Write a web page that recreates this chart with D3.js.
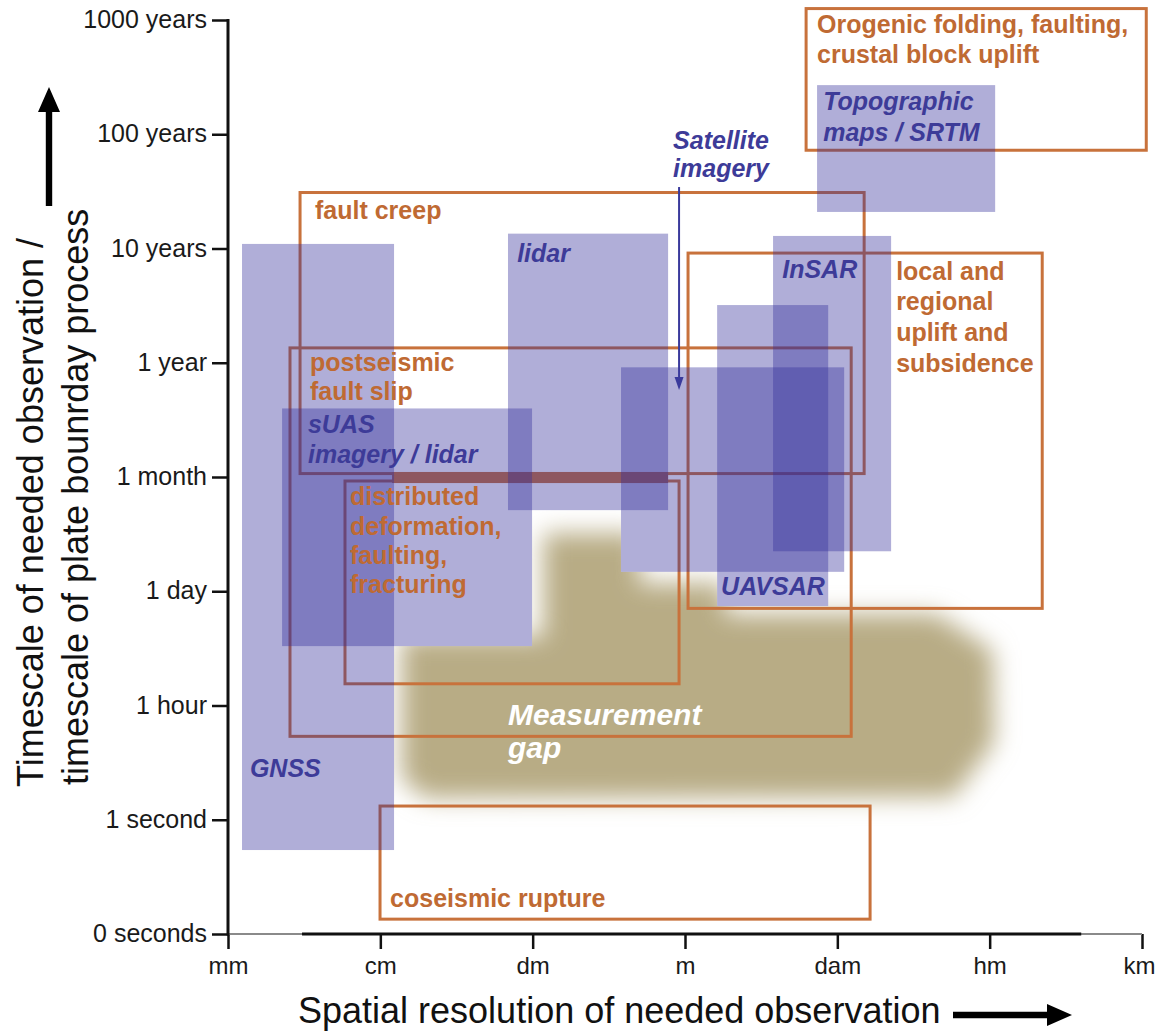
<!DOCTYPE html>
<html>
<head>
<meta charset="utf-8">
<script src="https://cdn.jsdelivr.net/npm/d3@7"></script>
<style>
  html, body { margin: 0; padding: 0; background: #fff; }
  svg { display: block; font-family: "Liberation Sans", Arial, Helvetica, sans-serif; }
</style>
</head>
<body>
<svg id="chart" width="1157" height="1031"></svg>
<script>
// ---- Axis categories -------------------------------------------------------
// Spatial resolution, one step per decade of length
const spatialTicks = ["mm", "cm", "dm", "m", "dam", "hm", "km"];
// Timescale steps, bottom to top
const timeTicks = ["0 seconds", "1 second", "1 hour", "1 day", "1 month",
                   "1 year", "10 years", "100 years", "1000 years"];

// ---- Observation techniques (blue) -----------------------------------------
// x0..x1 in spatial steps (0 = mm), y0..y1 in timescale steps (0 = 0 seconds)
const techniques = [
  { name: "GNSS",        x0: 0.092, x1: 1.090, y0: 0.735, y1: 6.04 },
  { name: "sUAS",        x0: 0.355, x1: 1.996, y0: 2.52,  y1: 4.60 },
  { name: "lidar",       x0: 1.838, x1: 2.889, y0: 3.71,  y1: 6.13 },
  { name: "Satellite",   x0: 2.580, x1: 4.045, y0: 3.17,  y1: 4.96 },
  { name: "UAVSAR",      x0: 3.211, x1: 3.940, y0: 2.87,  y1: 5.505 },
  { name: "InSAR",       x0: 3.578, x1: 4.353, y0: 3.35,  y1: 6.11 },
  { name: "Topographic", x0: 3.867, x1: 5.036, y0: 6.32,  y1: 7.43 }
];

// ---- Plate boundary processes (orange outlines) ----------------------------
const processes = [
  { name: "Orogenic",     x0: 3.795, x1: 6.028, y0: 6.86, y1: 8.10 },
  { name: "fault creep",  x0: 0.473, x1: 4.176, y0: 4.03, y1: 6.49 },
  { name: "local",        x0: 3.020, x1: 5.345, y0: 2.85, y1: 5.96 },
  { name: "postseismic",  x0: 0.407, x1: 4.091, y0: 1.73, y1: 5.13 },
  { name: "distributed",  x0: 0.768, x1: 2.961, y0: 2.19, y1: 3.965 },
  { name: "coseismic",    x0: 0.998, x1: 4.215, y0: 0.13, y1: 1.12 }
];
// heavy band where the fault-creep floor meets distributed deformation
const creepBand = [{ x0: 1.077, x1: 2.889, y0: 3.947, y1: 4.044 }];

// ---- Measurement gap outline (spatial step, timescale step) ----------------
const gapOutline = [
  [1.140, 2.600], [2.070, 2.600], [2.070, 3.510], [2.700, 3.510],
  [2.700, 3.070], [3.263, 3.070], [3.263, 2.800], [4.650, 2.800],
  [5.020, 2.480], [5.030, 1.680], [4.760, 1.200], [1.294, 1.190],
  [1.140, 1.360]
];

// ---- Text labels (first-line anchors in data units) ------------------------
const processLabels = [
  { text: "Orogenic folding, faulting,", x: 3.867, y: 7.886 },
  { text: "crustal block uplift",        x: 3.867, y: 7.624 },
  { text: "fault creep",                 x: 0.571, y: 6.258 },
  { text: "local and",                   x: 4.386, y: 5.724 },
  { text: "regional",                    x: 4.386, y: 5.462 },
  { text: "uplift and",                  x: 4.386, y: 5.190 },
  { text: "subsidence",                  x: 4.386, y: 4.919 },
  { text: "postseismic",                 x: 0.538, y: 4.928 },
  { text: "fault slip",                  x: 0.538, y: 4.674 },
  { text: "distributed",                 x: 0.801, y: 3.755 },
  { text: "deformation,",                x: 0.801, y: 3.492 },
  { text: "faulting,",                   x: 0.801, y: 3.239 },
  { text: "fracturing",                  x: 0.801, y: 2.985 },
  { text: "coseismic rupture",           x: 1.064, y: 0.236 }
];
const techLabels = [
  { text: "Topographic",     x: 3.907, y: 7.212 },
  { text: "maps / SRTM",     x: 3.907, y: 6.941 },
  { text: "Satellite",       x: 2.922, y: 6.871 },
  { text: "imagery",         x: 2.922, y: 6.626 },
  { text: "lidar",           x: 1.898, y: 5.882 },
  { text: "InSAR",           x: 3.638, y: 5.742 },
  { text: "sUAS",            x: 0.525, y: 4.385 },
  { text: "imagery / lidar", x: 0.525, y: 4.123 },
  { text: "UAVSAR",          x: 3.237, y: 2.967 },
  { text: "GNSS",            x: 0.144, y: 1.374 }
];
const gapLabels = [
  { text: "Measurement", x: 1.838, y: 1.829 },
  { text: "gap",         x: 1.838, y: 1.540 }
];
// pointer from the satellite imagery label down into its box
const satellitePointer = { x: 2.961, yFrom: 6.538, yTo: 4.761 };

// ---- Styling ---------------------------------------------------------------
const ORANGE_LINE = "#c8723c";
const ORANGE_TEXT = "#bf6a33";
const BLUE_FILL = "rgb(52,47,155)";
const BLUE_OPACITY = 0.39;
const BLUE_TEXT = "#3d3b98";
const GAP_FILL = "#b8ac85";

const svg = d3.select("#chart");
const x = d3.scaleLinear().domain([0, 6]).range([228, 1142]);
const y = d3.scaleLinear().domain([0, 8]).range([934, 20]);

const defs = svg.append("defs");
defs.append("filter")
    .attr("id", "gapBlur")
    .attr("x", "-25%").attr("y", "-25%")
    .attr("width", "150%").attr("height", "150%")
  .append("feGaussianBlur")
    .attr("stdDeviation", 12);

const rectAttrs = sel => sel
  .attr("x", d => x(d.x0))
  .attr("y", d => y(d.y1))
  .attr("width", d => x(d.x1) - x(d.x0))
  .attr("height", d => y(d.y0) - y(d.y1));

// measurement gap: soft khaki area
svg.append("path")
  .datum(gapOutline)
  .attr("d", d3.line().x(d => x(d[0])).y(d => y(d[1])).curve(d3.curveLinearClosed))
  .attr("fill", GAP_FILL)
  .attr("filter", "url(#gapBlur)");

// technique footprints knock the gap out underneath
svg.append("g").selectAll("rect")
  .data(techniques).join("rect")
  .call(rectAttrs)
  .attr("fill", "#fff");

// process outlines
svg.append("g").selectAll("rect")
  .data(creepBand).join("rect")
  .call(rectAttrs)
  .attr("fill", ORANGE_LINE);

svg.append("g").selectAll("rect")
  .data(processes).join("rect")
  .call(rectAttrs)
  .attr("fill", "none")
  .attr("stroke", ORANGE_LINE)
  .attr("stroke-width", 3);

// technique boxes (translucent, so overlaps darken)
svg.append("g").selectAll("rect")
  .data(techniques).join("rect")
  .call(rectAttrs)
  .attr("fill", BLUE_FILL)
  .attr("fill-opacity", BLUE_OPACITY);

// ---- Axes ------------------------------------------------------------------
const xAxis = svg.append("g")
  .attr("transform", `translate(0,${y(0)})`)
  .call(d3.axisBottom(x)
    .tickValues(d3.range(spatialTicks.length))
    .tickFormat(i => spatialTicks[i])
    .tickSize(15)
    .tickPadding(6));
xAxis.select(".domain").remove();
xAxis.selectAll(".tick line").attr("stroke", "#111").attr("stroke-width", 2.5);
xAxis.selectAll(".tick text")
  .attr("fill", "#1a1a1a").style("font-size", "24px")
  .attr("dy", "0.78em");
// keep the last label inside the frame
xAxis.selectAll(".tick text").filter(d => d === spatialTicks.length - 1)
  .attr("dx", -3);

// baseline: light at the ends, heavy through the middle
svg.append("line")
  .attr("x1", x(0)).attr("x2", x(6))
  .attr("y1", y(0)).attr("y2", y(0))
  .attr("stroke", "#8a8a8a").attr("stroke-width", 2);
svg.append("line")
  .attr("x1", x(0.486)).attr("x2", x(5.601))
  .attr("y1", y(0)).attr("y2", y(0))
  .attr("stroke", "#111").attr("stroke-width", 3);

const yAxis = svg.append("g")
  .attr("transform", `translate(${x(0)},0)`)
  .call(d3.axisLeft(y)
    .tickValues(d3.range(timeTicks.length))
    .tickFormat(i => timeTicks[i])
    .tickSize(16)
    .tickPadding(5));
yAxis.select(".domain").remove();
yAxis.selectAll(".tick line").attr("stroke", "#111").attr("stroke-width", 2.5);
yAxis.selectAll(".tick text")
  .attr("fill", "#1a1a1a").style("font-size", "25px")
  .attr("dy", "0.3em");
svg.append("line")
  .attr("x1", x(0)).attr("x2", x(0))
  .attr("y1", y(8) - 1).attr("y2", y(0) + 1.5)
  .attr("stroke", "#111").attr("stroke-width", 3);

// axis titles
svg.append("text")
  .attr("x", 298).attr("y", 1023)
  .attr("fill", "#111")
  .style("font-size", "36px")
  .text("Spatial resolution of needed observation");

const yTitle = svg.append("text")
  .attr("transform", "translate(43,787) rotate(-90)")
  .attr("fill", "#111")
  .style("font-size", "36px");
yTitle.append("tspan").attr("x", 0).attr("y", 0)
  .text("Timescale of needed observation /");
yTitle.append("tspan").attr("x", 2).attr("y", 45)
  .text("timescale of plate bounrday process");

// direction arrows beside the axis titles
function blockArrow(x1, y1, x2, y2) {
  const len = Math.hypot(x2 - x1, y2 - y1);
  const ang = Math.atan2(y2 - y1, x2 - x1) * 180 / Math.PI;
  const head = 25, half = 11, shaft = 3.2;
  const g = svg.append("g").attr("transform", `translate(${x1},${y1}) rotate(${ang})`);
  g.append("path")
    .attr("d", `M0,${-shaft}L${len - head},${-shaft}L${len - head},${-half}L${len},0` +
               `L${len - head},${half}L${len - head},${shaft}L0,${shaft}Z`)
    .attr("fill", "#000");
}
blockArrow(953, 1015, 1072, 1015);
blockArrow(49, 206, 49, 87);

// ---- Labels ----------------------------------------------------------------
svg.append("g").selectAll("text")
  .data(processLabels).join("text")
  .attr("x", d => x(d.x)).attr("y", d => y(d.y))
  .attr("fill", ORANGE_TEXT)
  .style("font-size", "25px").style("font-weight", "bold")
  .text(d => d.text);

svg.append("g").selectAll("text")
  .data(techLabels).join("text")
  .attr("x", d => x(d.x)).attr("y", d => y(d.y))
  .attr("fill", BLUE_TEXT)
  .style("font-size", "25px").style("font-weight", "bold").style("font-style", "italic")
  .text(d => d.text);

svg.append("g").selectAll("text")
  .data(gapLabels).join("text")
  .attr("x", d => x(d.x)).attr("y", d => y(d.y))
  .attr("fill", "#fff")
  .style("font-size", "30px").style("font-weight", "bold").style("font-style", "italic")
  .text(d => d.text);

// satellite imagery pointer
const px = x(satellitePointer.x), pTop = y(satellitePointer.yFrom), pTip = y(satellitePointer.yTo);
svg.append("line")
  .attr("x1", px).attr("x2", px)
  .attr("y1", pTop).attr("y2", pTip - 10)
  .attr("stroke", "#3a3a9c").attr("stroke-width", 2);
svg.append("path")
  .attr("d", `M${px - 4.5},${pTip - 13}L${px + 4.5},${pTip - 13}L${px},${pTip}Z`)
  .attr("fill", "#3a3a9c");
</script>
</body>
</html>
